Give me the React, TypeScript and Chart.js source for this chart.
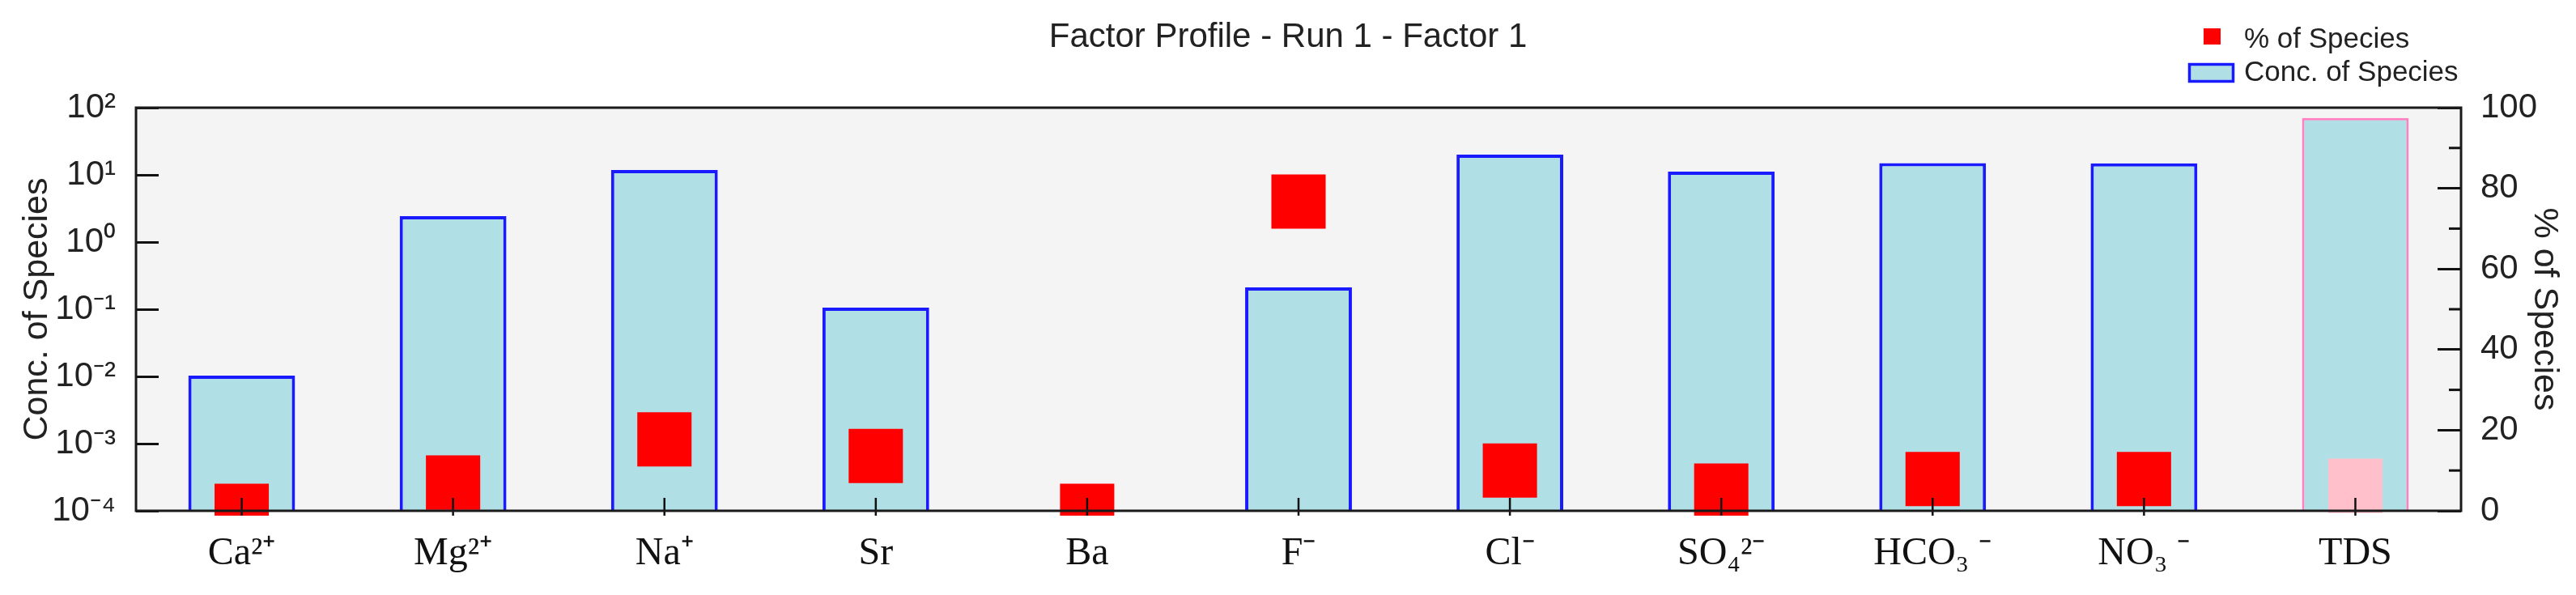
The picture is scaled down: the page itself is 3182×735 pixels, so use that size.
import React, { useEffect, useRef } from 'react';
import { Chart, registerables } from 'chart.js';

Chart.register(...registerables);

const categories = ['Ca²⁺', 'Mg²⁺', 'Na⁺', 'Sr', 'Ba', 'F⁻', 'Cl⁻', 'SO₄²⁻', 'HCO₃ ⁻', 'NO₃ ⁻', 'TDS'];
const concOfSpecies = [0.0103, 2.43, 11.8, 0.106, null, 0.211, 20.0, 11.2, 15.0, 14.8, 70.0];
const percentOfSpecies = [0.0, 7.0, 17.7, 13.6, 0.0, 76.7, 10.0, 5.0, 7.9, 7.9, 6.2];
const concTickValues = [1e-4, 1e-3, 1e-2, 1e-1, 1, 10, 100];
const concTickLabels = ['10⁻⁴', '10⁻³', '10⁻²', '10⁻¹', '10⁰', '10¹', '10²'];
const percentMinorTicks = [10, 30, 50, 70, 90];

const SANS = "'Liberation Sans', Arial, sans-serif";
const SERIF = "'Liberation Serif', 'Times New Roman', serif";
const TEXT = '#222222';
const BAR_FILL = '#b0e0e6';
const BAR_BORDER = '#1a1aff';
const TDS_BORDER = '#ff80c0';
const POINT_RED = '#ff0000';
const POINT_PINK = '#ffc0cb';

const plotFramePlugin = {
  id: 'plotFrame',
  beforeDraw(chart: any) {
    const { ctx, chartArea: a } = chart;
    ctx.save();
    ctx.fillStyle = '#f4f4f4';
    ctx.fillRect(a.left, a.top, a.right - a.left, a.bottom - a.top);
    ctx.restore();
  },
  afterDatasetsDraw(chart: any) {
    const { ctx, chartArea: a, scales } = chart;
    ctx.save();
    ctx.strokeStyle = '#111111';
    ctx.lineWidth = 2.5;
    const xs = scales.x;
    for (let i = 0; i < categories.length; i++) {
      const px = xs.getPixelForTick(i);
      ctx.beginPath();
      ctx.moveTo(px, a.bottom - 16);
      ctx.lineTo(px, a.bottom + 6);
      ctx.stroke();
    }
    ctx.lineWidth = 3;
    for (const v of percentMinorTicks) {
      const py = scales.y1.getPixelForValue(v);
      ctx.beginPath();
      ctx.moveTo(a.right - 15, py);
      ctx.lineTo(a.right, py);
      ctx.stroke();
    }
    ctx.strokeStyle = '#1a1a1a';
    ctx.lineWidth = 3;
    ctx.strokeRect(a.left, a.top, a.right - a.left, a.bottom - a.top);
    ctx.restore();
  },
};

const legendPlugin = {
  id: 'stackedLegend',
  afterDraw(chart: any) {
    const { ctx, chartArea: a } = chart;
    const ds = chart.data.datasets;
    ctx.save();
    // % of Species marker
    ctx.fillStyle = POINT_RED;
    ctx.fillRect(a.right - 318, 27, 21, 20);
    // Conc. of Species box
    ctx.fillStyle = BAR_FILL;
    ctx.fillRect(a.right - 337, 70, 57, 24);
    ctx.strokeStyle = BAR_BORDER;
    ctx.lineWidth = 3.5;
    ctx.strokeRect(a.right - 335.5, 71.5, 54, 21);
    ctx.fillStyle = TEXT;
    ctx.font = `35px ${SANS}`;
    ctx.textAlign = 'left';
    ctx.textBaseline = 'middle';
    ctx.fillText(ds[0].label, a.right - 268, 41);
    ctx.fillText(ds[1].label, a.right - 268, 82);
    ctx.restore();
  },
};

export default function App() {
  const canvasRef = useRef<HTMLCanvasElement | null>(null);

  useEffect(() => {
    if (!canvasRef.current) return;
    const chart = new Chart(canvasRef.current, {
      type: 'bar',
      data: {
        labels: categories,
        datasets: [
          {
            type: 'line',
            label: '% of Species',
            data: percentOfSpecies,
            yAxisID: 'y1',
            showLine: false,
            order: 1,
            pointStyle: 'rect',
            pointRadius: 47.4,
            pointHoverRadius: 47.4,
            pointBorderWidth: 0,
            pointBackgroundColor: categories.map((c) => (c === 'TDS' ? POINT_PINK : POINT_RED)),
            pointBorderColor: 'rgba(0,0,0,0)',
            clip: { left: 10, top: 10, right: 10, bottom: 6 },
          } as any,
          {
            type: 'bar',
            label: 'Conc. of Species',
            data: concOfSpecies,
            yAxisID: 'y',
            order: 2,
            backgroundColor: BAR_FILL,
            borderColor: categories.map((c) => (c === 'TDS' ? TDS_BORDER : BAR_BORDER)),
            borderWidth: categories.map((c) => (c === 'TDS' ? 3 : 4)),
            barPercentage: 0.505,
            categoryPercentage: 1.0,
          } as any,
        ],
      },
      options: {
        animation: false,
        responsive: true,
        maintainAspectRatio: false,
        events: [],
        layout: { padding: 0 },
        plugins: {
          legend: { display: false },
          tooltip: { enabled: false },
          title: {
            display: true,
            text: 'Factor Profile - Run 1 - Factor 1',
            color: TEXT,
            font: { family: SANS, size: 42, weight: 'normal' },
            padding: { top: 13, bottom: 61.6 },
          },
        },
        scales: {
          x: {
            type: 'category',
            offset: true,
            grid: { display: false, drawTicks: false },
            border: { display: false },
            ticks: {
              color: '#111111',
              font: { family: SERIF, size: 48 },
              padding: 25,
              maxRotation: 0,
              autoSkip: false,
            },
            afterFit: (s: any) => {
              s.height = 96;
            },
          },
          y: {
            type: 'logarithmic',
            position: 'left',
            min: 1e-4,
            max: 100,
            afterBuildTicks: (s: any) => {
              s.ticks = concTickValues.map((v) => ({ value: v }));
            },
            ticks: {
              color: TEXT,
              font: { family: SANS, size: 42 },
              padding: 53,
              autoSkip: false,
              callback: (_v: any, i: number) => concTickLabels[i],
            },
            grid: {
              display: true,
              drawOnChartArea: false,
              drawTicks: true,
              tickLength: -28,
              tickWidth: 3,
              tickColor: '#111111',
            },
            border: { display: false },
            title: {
              display: true,
              text: 'Conc. of Species',
              color: TEXT,
              font: { family: SANS, size: 43 },
              padding: { top: 12, bottom: 0 },
            },
            afterFit: (s: any) => {
              s.width = 160;
            },
          },
          y1: {
            type: 'linear',
            position: 'right',
            min: 0,
            max: 100,
            ticks: {
              stepSize: 20,
              color: TEXT,
              font: { family: SANS, size: 42 },
              padding: 53,
            },
            grid: {
              display: true,
              drawOnChartArea: false,
              drawTicks: true,
              tickLength: -29,
              tickWidth: 3,
              tickColor: '#111111',
            },
            border: { display: false },
            title: {
              display: true,
              text: '% of Species',
              color: TEXT,
              font: { family: SANS, size: 43 },
              padding: { top: 5, bottom: 0 },
            },
            afterFit: (s: any) => {
              s.width = 134;
            },
          },
        },
      },
      plugins: [plotFramePlugin, legendPlugin],
    });
    return () => chart.destroy();
  }, []);

  return (
    <div style={{ position: 'relative', width: '100%', height: '719px' }}>
      <canvas ref={canvasRef} />
    </div>
  );
}
